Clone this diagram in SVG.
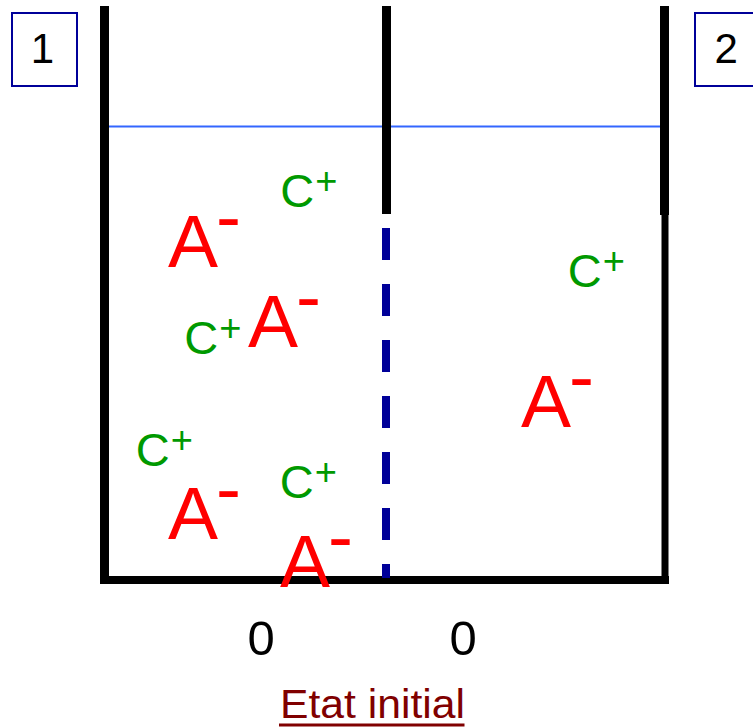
<svg xmlns="http://www.w3.org/2000/svg" width="753" height="728" viewBox="0 0 753 728">
<style>
text{font-family:"Liberation Sans",Arial,sans-serif}
.box{fill:#fff;stroke:#000099;stroke-width:2}
.num{font-size:42px;fill:#000;text-anchor:middle}
.wall{stroke:#000;stroke-width:9;fill:none}
.a{font-size:75px;fill:#ff0000}
.c{font-size:47px;fill:#009900}
.sup{font-size:38px}
.zero{font-size:49px;fill:#000}
.title{font-size:40px;fill:#800000}
</style>
<rect width="753" height="728" fill="#fff"/>
<g id="container">
<line x1="109" y1="126.5" x2="660" y2="126.5" stroke="#3366ff" stroke-width="2"/>
<line class="wall" x1="104.5" y1="6" x2="104.5" y2="584"/>
<line class="wall" x1="664.5" y1="6" x2="664.5" y2="215"/>
<line class="wall" x1="665" y1="215" x2="665" y2="584" style="stroke-width:7"/>
<line x1="100" y1="580" x2="669" y2="580" stroke="#000" stroke-width="8"/>
<line class="wall" x1="386.5" y1="6" x2="386.5" y2="214"/>
<line x1="386" y1="228" x2="386" y2="578" stroke="#000099" stroke-width="8" stroke-dasharray="32 24"/>
</g>
<g id="box1"><rect class="box" x="12" y="13" width="65" height="73"/><text class="num" x="42.5" y="63">1</text></g>
<g id="box2"><rect class="box" x="695" y="13" width="70" height="73"/><text class="num" x="726.3" y="63">2</text></g>
<g id="ions">
<g id="a1"><text class="a" x="168" y="267">A<tspan dx="-2" dy="-25">-</tspan></text></g>
<g id="a2"><text class="a" x="248" y="347">A<tspan dx="-2" dy="-25">-</tspan></text></g>
<g id="a3"><text class="a" x="168" y="539">A<tspan dx="-2" dy="-25">-</tspan></text></g>
<g id="a4"><text class="a" x="280" y="587">A<tspan dx="-2" dy="-25">-</tspan></text></g>
<g id="a5"><text class="a" x="521" y="427">A<tspan dx="-2" dy="-25">-</tspan></text></g>
<g id="c1"><text class="c" x="280.3" y="207">C<tspan class="sup" dx="1" dy="-13">+</tspan></text></g>
<g id="c2"><text class="c" x="184.3" y="354">C<tspan class="sup" dx="1" dy="-13">+</tspan></text></g>
<g id="c3"><text class="c" x="135.8" y="466">C<tspan class="sup" dx="1" dy="-13">+</tspan></text></g>
<g id="c4"><text class="c" x="279.8" y="498">C<tspan class="sup" dx="1" dy="-13">+</tspan></text></g>
<g id="c5"><text class="c" x="567.8" y="287">C<tspan class="sup" dx="1" dy="-13">+</tspan></text></g>
</g>
<g id="values">
<text class="zero" x="247.5" y="655">0</text>
<text class="zero" x="449.5" y="655">0</text>
</g>
<g id="caption">
<text class="title" x="280" y="718" textLength="185" lengthAdjust="spacingAndGlyphs">Etat initial</text>
<line x1="279" y1="725" x2="464.5" y2="725" stroke="#800000" stroke-width="3"/>
</g>
</svg>
